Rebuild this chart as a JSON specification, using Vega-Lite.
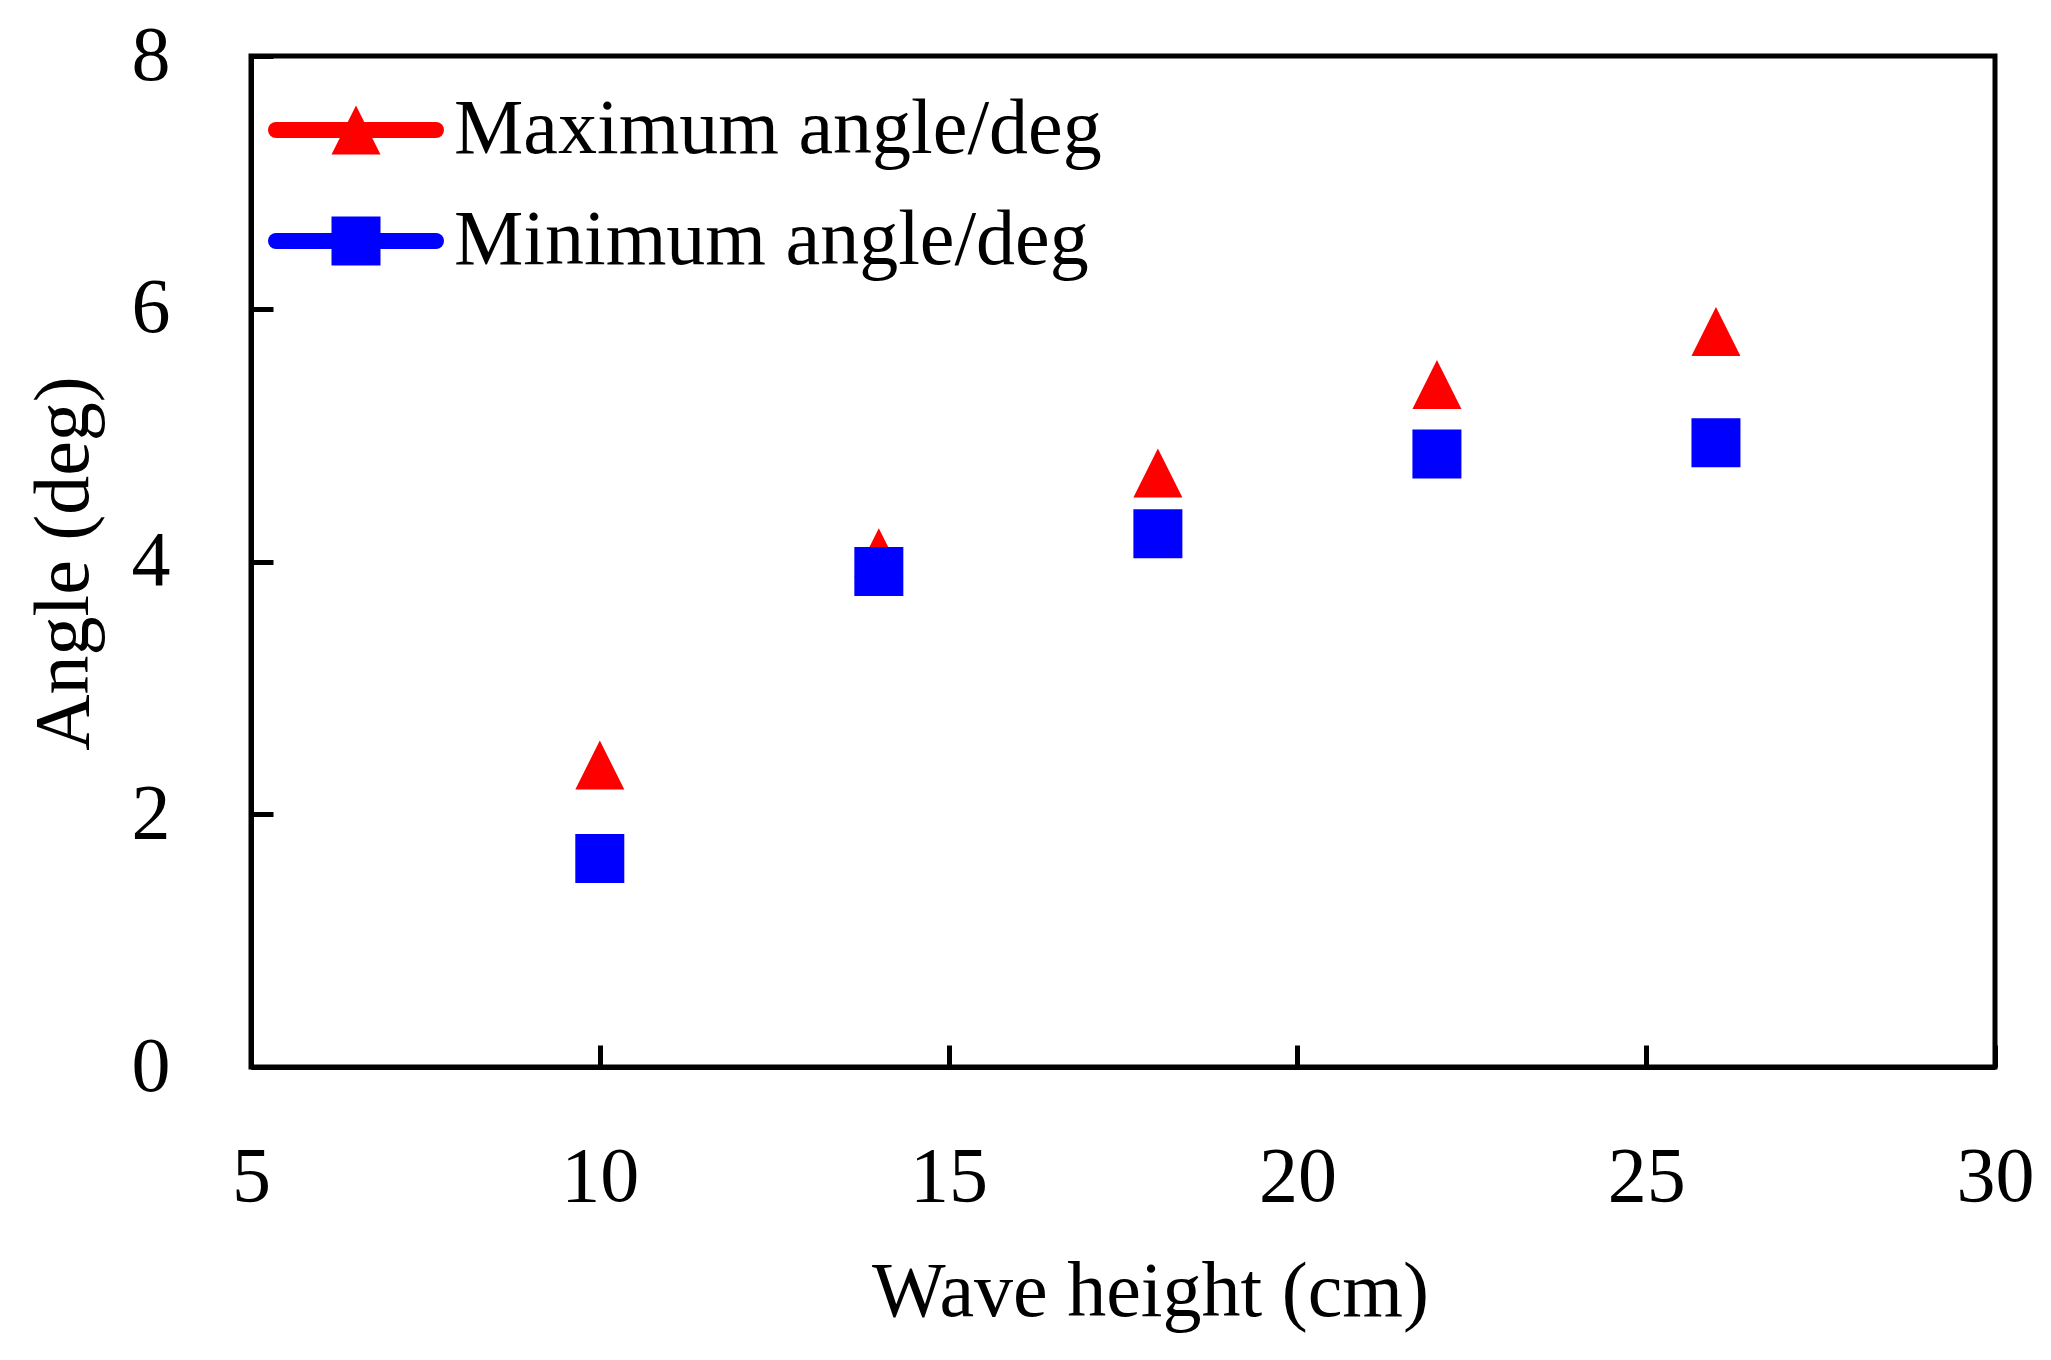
{
  "$schema": "https://vega.github.io/schema/vega-lite/v6.json",
  "autosize": "none",
  "width": 1744,
  "height": 1011,
  "padding": {"left": 251, "top": 56, "right": 56, "bottom": 293},
  "background": "white",
  "config": {
    "view": {"stroke": "black", "strokeWidth": 5},
    "font": "Liberation Serif",
    "axis": {
      "labelFont": "Liberation Serif",
      "labelFontSize": 78,
      "labelColor": "black",
      "titleFont": "Liberation Serif",
      "titleFontSize": 78,
      "titleFontWeight": "normal",
      "titleColor": "black",
      "domainColor": "black",
      "domainWidth": 5,
      "tickColor": "black",
      "tickWidth": 5,
      "tickSize": -22,
      "grid": false,
      "labelFlush": false,
      "labelOverlap": false
    },
    "legend": {
      "labelFont": "Liberation Serif",
      "labelFontSize": 78,
      "labelColor": "black",
      "labelLimit": 0
    }
  },
  "data": {
    "values": [
      {"height": 10, "angle": 2.39, "series": "Maximum angle/deg"},
      {"height": 14, "angle": 4.07, "series": "Maximum angle/deg"},
      {"height": 18, "angle": 4.70, "series": "Maximum angle/deg"},
      {"height": 22, "angle": 5.40, "series": "Maximum angle/deg"},
      {"height": 26, "angle": 5.82, "series": "Maximum angle/deg"},
      {"height": 10, "angle": 1.65, "series": "Minimum angle/deg"},
      {"height": 14, "angle": 3.92, "series": "Minimum angle/deg"},
      {"height": 18, "angle": 4.22, "series": "Minimum angle/deg"},
      {"height": 22, "angle": 4.85, "series": "Minimum angle/deg"},
      {"height": 26, "angle": 4.94, "series": "Minimum angle/deg"}
    ]
  },
  "encoding": {
    "x": {
      "field": "height",
      "type": "quantitative",
      "scale": {"domain": [5, 30], "nice": false, "zero": false},
      "axis": {
        "title": "Wave height (cm)",
        "values": [5, 10, 15, 20, 25, 30],
        "labelPadding": 93,
        "titleX": 899,
        "titleY": 248,
        "titleAlign": "center",
        "titleBaseline": "alphabetic"
      }
    },
    "y": {
      "field": "angle",
      "type": "quantitative",
      "scale": {"domain": [0, 8], "nice": false, "zero": false},
      "axis": {
        "title": "Angle (deg)",
        "values": [0, 2, 4, 6, 8],
        "labelPadding": 103,
        "titleX": -164,
        "titleY": 507,
        "titleAngle": -90,
        "titleAlign": "center",
        "titleBaseline": "alphabetic"
      }
    }
  },
  "layer": [
    {
      "transform": [{"filter": "datum.angle < 0"}],
      "mark": {"type": "line", "strokeWidth": 16, "strokeCap": "round"},
      "encoding": {
        "stroke": {
          "field": "series",
          "type": "nominal",
          "scale": {"domain": ["Maximum", "Minimum"], "range": ["#FF0000", "#0000FF"]},
          "legend": {
            "title": null,
            "orient": "none",
            "legendX": 17,
            "legendY": 26,
            "padding": 0,
            "symbolType": "stroke",
            "symbolSize": 25600,
            "symbolStrokeWidth": 16,
            "clipHeight": 96,
            "rowPadding": 15,
            "labelExpr": "''",
            "encode": {"symbols": {"update": {"strokeCap": {"value": "round"}}}}
          }
        }
      }
    },
    {
      "mark": {"type": "point", "filled": true, "opacity": 1, "size": 2401},
      "encoding": {
        "color": {
          "field": "series",
          "type": "nominal",
          "scale": {"range": ["#FF0000", "#0000FF"]},
          "legend": {
            "title": null,
            "orient": "none",
            "legendX": 66,
            "legendY": 26,
            "padding": 0,
            "symbolSize": 2401,
            "symbolOpacity": 1,
            "symbolStrokeWidth": 0,
            "clipHeight": 96,
            "rowPadding": 15,
            "labelOffset": 59,
            "labelLimit": 0
          }
        },
        "shape": {
          "field": "series",
          "type": "nominal",
          "scale": {"range": ["M0,-1L1,1L-1,1Z", "square"]},
          "legend": {
            "title": null,
            "orient": "none",
            "legendX": 66,
            "legendY": 26,
            "padding": 0,
            "symbolSize": 2401,
            "symbolStrokeWidth": 0,
            "clipHeight": 96,
            "rowPadding": 15,
            "labelOffset": 59,
            "labelLimit": 0
          }
        }
      }
    }
  ]
}
